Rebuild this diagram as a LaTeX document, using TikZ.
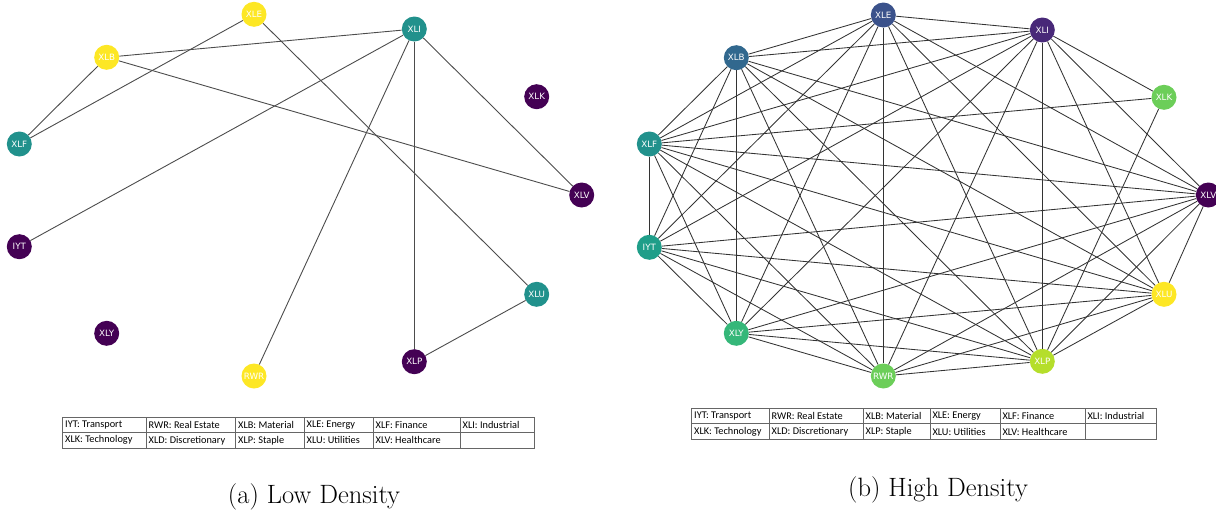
\documentclass[tikz,border=0pt]{standalone}
\usepackage{fontspec}
\newfontfamily\tabfont{Carlito}
\newfontfamily\lblfont{DejaVu Sans}
\definecolor{vyel}{HTML}{FDE725}
\definecolor{vteal}{HTML}{21918C}
\definecolor{vpur}{HTML}{440154}
\definecolor{vblue}{HTML}{3B528B}
\definecolor{vblue2}{HTML}{31688E}
\definecolor{vpur2}{HTML}{482878}
\definecolor{vgreen}{HTML}{6CCE59}
\definecolor{vteal2}{HTML}{1F9E89}
\definecolor{vgreen2}{HTML}{35B779}
\definecolor{vlime}{HTML}{B5DE2B}
\begin{document}
\begin{tikzpicture}[x=1pt,y=-1pt,
  gnode/.style={circle,minimum size=25pt,inner sep=0pt,text=white,font=\lblfont\fontsize{8.7}{9}\selectfont},
  ledge/.style={draw=black!70,line width=0.9pt},
  hedge/.style={draw=black!80,line width=0.85pt},
  grid/.style={draw=black!60,line width=0.6pt},
  cell/.style={anchor=west,inner sep=0pt,font=\tabfont\fontsize{10.3}{12}\selectfont},
  capt/.style={font=\fontsize{26.5}{30}\selectfont}]
\useasboundingbox (0,0) rectangle (1216,512);
% ---------- left graph ----------
\node[gnode,fill=vyel]  (aXLE) at (254,14.3) {XLE};
\node[gnode,fill=vyel]  (aXLB) at (106.7,57.3) {XLB};
\node[gnode,fill=vteal] (aXLI) at (414.3,29) {XLI};
\node[gnode,fill=vteal] (aXLF) at (19.3,144) {XLF};
\node[gnode,fill=vpur]  (aXLK) at (536.7,96.7) {XLK};
\node[gnode,fill=vpur]  (aXLV) at (581.7,195) {XLV};
\node[gnode,fill=vpur]  (aIYT) at (19.3,246.7) {IYT};
\node[gnode,fill=vpur]  (aXLY) at (106.7,333.3) {XLY};
\node[gnode,fill=vyel]  (aRWR) at (254,376) {RWR};
\node[gnode,fill=vpur]  (aXLP) at (414.3,361.7) {XLP};
\node[gnode,fill=vteal] (aXLU) at (536.7,294.3) {XLU};
\foreach \u/\v in {aXLB/aXLF,aXLE/aXLF,aXLB/aXLI,aXLB/aXLV,aXLE/aXLU,aXLI/aIYT,aXLI/aRWR,aXLI/aXLP,aXLI/aXLV,aXLP/aXLU}
  \draw[ledge] (\u) -- (\v);
% ---------- right graph ----------
\node[gnode,fill=vblue]   (bXLE) at (883.3,15) {XLE};
\node[gnode,fill=vblue2]  (bXLB) at (736.3,57.7) {XLB};
\node[gnode,fill=vpur2]   (bXLI) at (1042.3,30) {XLI};
\node[gnode,fill=vteal]   (bXLF) at (649.3,144) {XLF};
\node[gnode,fill=vgreen]  (bXLK) at (1164,97.3) {XLK};
\node[gnode,fill=vpur]    (bXLV) at (1208.3,195) {XLV};
\node[gnode,fill=vteal2]  (bIYT) at (649.3,247.3) {IYT};
\node[gnode,fill=vgreen2] (bXLY) at (736.3,333.3) {XLY};
\node[gnode,fill=vgreen]  (bRWR) at (883.3,376) {RWR};
\node[gnode,fill=vlime]   (bXLP) at (1042.3,361.3) {XLP};
\node[gnode,fill=vyel]    (bXLU) at (1164,294.3) {XLU};
\foreach \u [count=\i] in {bXLE,bXLB,bXLI,bXLF,bXLV,bIYT,bXLY,bRWR,bXLP,bXLU}{
  \foreach \v [count=\j] in {bXLE,bXLB,bXLI,bXLF,bXLV,bIYT,bXLY,bRWR,bXLP,bXLU}{
    \ifnum\j>\i \draw[hedge] (\u) -- (\v); \fi
  }
}
\foreach \v in {bXLI,bXLF,bXLP} \draw[hedge] (bXLK) -- (\v);
% ---------- left table ----------
\draw[grid] (62.7,417) rectangle (534,448);
\draw[grid] (62.7,432.5) -- (534,432.5);
\foreach \x in {146,235.7,304.3,373.3,460} \draw[grid] (\x,417) -- (\x,448);
\node[cell] (ta1) at (65,424.8) {IYT: Transport};
\node[cell] (ta2) at (148.5,424.8) {RWR: Real Estate};
\node[cell] (ta3) at (238,424.8) {XLB: Material};
\node[cell] (ta4) at (306.5,424.8) {XLE: Energy};
\node[cell] (ta5) at (375.5,424.8) {XLF: Finance};
\node[cell] (ta6) at (462.5,424.8) {XLI: Industrial};
\node[cell] (ta7) at (65,440.3) {XLK: Technology};
\node[cell] (ta8) at (148.5,440.3) {XLD: Discretionary};
\node[cell] (ta9) at (238,440.3) {XLP: Staple};
\node[cell] (ta10) at (306.5,440.3) {XLU: Utilities};
\node[cell] (ta11) at (375.5,440.3) {XLV: Healthcare};
% ---------- right table ----------
\draw[grid] (691.7,408) rectangle (1156.7,439.5);
\draw[grid] (691.7,423.7) -- (1156.7,423.7);
\foreach \x in {769,863.3,930,1000,1085} \draw[grid] (\x,408) -- (\x,439.5);
\node[cell] (tb1) at (694,415.9) {IYT: Transport};
\node[cell] (tb2) at (771.5,415.9) {RWR: Real Estate};
\node[cell] (tb3) at (865.5,415.9) {XLB: Material};
\node[cell] (tb4) at (932.3,415.9) {XLE: Energy};
\node[cell] (tb5) at (1002.3,415.9) {XLF: Finance};
\node[cell] (tb6) at (1087.3,415.9) {XLI: Industrial};
\node[cell] (tb7) at (694,431.6) {XLK: Technology};
\node[cell] (tb8) at (771.5,431.6) {XLD: Discretionary};
\node[cell] (tb9) at (865.5,431.6) {XLP: Staple};
\node[cell] (tb10) at (932.3,431.6) {XLU: Utilities};
\node[cell] (tb11) at (1002.3,431.6) {XLV: Healthcare};
% ---------- captions ----------
\node[capt] (capa) at (314,497) {(a) Low Density};
\node[capt] (capb) at (938,490) {(b) High Density};
\end{tikzpicture}
\end{document}
